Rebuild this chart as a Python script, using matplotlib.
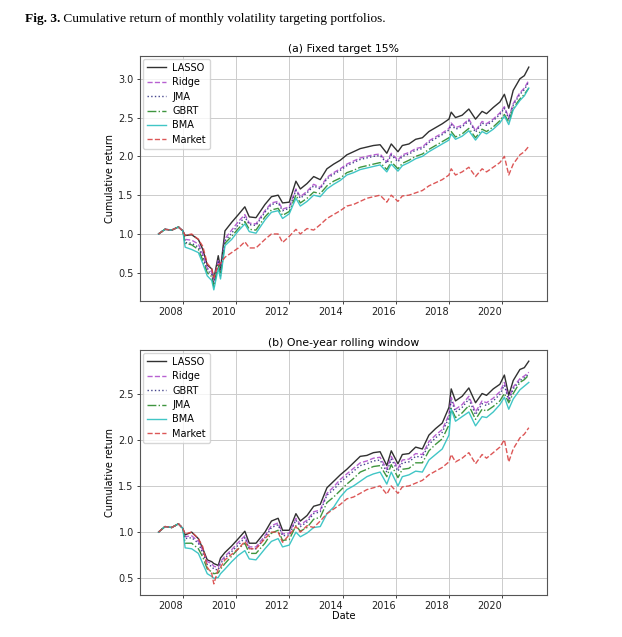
import matplotlib
matplotlib.use('Agg')
import matplotlib.pyplot as plt
import matplotlib.dates as mdates
import pandas as pd

# month-end observation dates shared by every series
months = ['2007-01', '2007-04', '2007-07', '2007-10', '2007-12', '2008-01', '2008-04', '2008-07',
          '2008-09', '2008-11', '2009-01', '2009-02', '2009-04', '2009-05', '2009-07', '2009-10',
          '2010-01', '2010-04', '2010-06', '2010-09', '2011-01', '2011-04', '2011-07', '2011-09',
          '2011-12', '2012-03', '2012-05', '2012-08', '2012-11', '2013-02', '2013-05', '2013-08',
          '2013-11', '2014-02', '2014-05', '2014-08', '2014-11', '2015-02', '2015-05', '2015-08',
          '2015-10', '2016-01', '2016-03', '2016-06', '2016-09', '2016-12', '2017-03', '2017-06',
          '2017-09', '2017-12', '2018-01', '2018-03', '2018-06', '2018-09', '2018-12', '2019-03',
          '2019-05', '2019-08', '2019-11', '2020-01', '2020-03', '2020-05', '2020-08', '2020-10',
          '2020-12']

market = [1.00, 1.06, 1.05, 1.09, 1.04, 0.98, 1.00, 0.93, 0.84, 0.62, 0.55, 0.44, 0.60, 0.62, 0.70, 0.76,
          0.82, 0.90, 0.82, 0.82, 0.93, 1.00, 1.00, 0.89, 0.97, 1.06, 1.00, 1.07, 1.05, 1.12, 1.20, 1.25,
          1.30, 1.36, 1.38, 1.42, 1.46, 1.48, 1.50, 1.41, 1.50, 1.42, 1.49, 1.50, 1.53, 1.56, 1.62, 1.66,
          1.70, 1.76, 1.84, 1.76, 1.80, 1.86, 1.74, 1.84, 1.80, 1.86, 1.92, 2.00, 1.76, 1.90, 2.02, 2.06,
          2.13]

# (a) Fixed target 15%
a_lasso = [1.00, 1.06, 1.05, 1.09, 1.04, 0.98, 0.99, 0.93, 0.80, 0.60, 0.55, 0.42, 0.72, 0.55, 1.04, 1.15,
           1.25, 1.35, 1.22, 1.21, 1.38, 1.48, 1.50, 1.40, 1.41, 1.68, 1.58, 1.65, 1.74, 1.70, 1.84, 1.90,
           1.95, 2.02, 2.06, 2.10, 2.12, 2.14, 2.15, 2.04, 2.16, 2.06, 2.14, 2.16, 2.22, 2.24, 2.32, 2.37,
           2.42, 2.48, 2.57, 2.50, 2.53, 2.61, 2.48, 2.58, 2.55, 2.63, 2.70, 2.80, 2.62, 2.85, 3.00, 3.04,
           3.15]
a_ridge = [1.00, 1.06, 1.05, 1.09, 1.04, 0.93, 0.92, 0.87, 0.74, 0.56, 0.51, 0.38, 0.67, 0.52, 0.94, 1.05,
           1.16, 1.25, 1.14, 1.13, 1.30, 1.40, 1.42, 1.32, 1.35, 1.58, 1.48, 1.55, 1.64, 1.60, 1.73, 1.79,
           1.84, 1.90, 1.94, 1.98, 2.00, 2.02, 2.03, 1.93, 2.04, 1.95, 2.02, 2.05, 2.10, 2.12, 2.20, 2.25,
           2.30, 2.36, 2.43, 2.37, 2.40, 2.48, 2.33, 2.45, 2.42, 2.48, 2.56, 2.64, 2.50, 2.68, 2.82, 2.88,
           2.98]
a_jma = [1.00, 1.06, 1.05, 1.09, 1.04, 0.89, 0.88, 0.83, 0.70, 0.53, 0.48, 0.35, 0.64, 0.50, 0.91, 1.01,
         1.12, 1.22, 1.12, 1.11, 1.28, 1.38, 1.40, 1.30, 1.33, 1.56, 1.46, 1.53, 1.62, 1.58, 1.71, 1.77,
         1.82, 1.88, 1.92, 1.96, 1.98, 2.00, 2.01, 1.91, 2.02, 1.93, 2.00, 2.03, 2.08, 2.10, 2.18, 2.23,
         2.28, 2.34, 2.41, 2.35, 2.38, 2.46, 2.31, 2.43, 2.40, 2.46, 2.54, 2.62, 2.48, 2.66, 2.80, 2.86,
         2.96]
a_gbrt = [1.00, 1.06, 1.05, 1.09, 1.04, 0.88, 0.86, 0.80, 0.66, 0.50, 0.45, 0.32, 0.60, 0.46, 0.88, 0.97,
          1.07, 1.16, 1.06, 1.05, 1.22, 1.31, 1.33, 1.24, 1.29, 1.50, 1.40, 1.46, 1.54, 1.52, 1.62, 1.68,
          1.72, 1.79, 1.82, 1.86, 1.88, 1.90, 1.92, 1.83, 1.93, 1.84, 1.91, 1.95, 2.00, 2.03, 2.09, 2.14,
          2.19, 2.24, 2.32, 2.25, 2.29, 2.36, 2.24, 2.35, 2.32, 2.38, 2.46, 2.54, 2.44, 2.62, 2.74, 2.80,
          2.88]
a_bma = [1.00, 1.06, 1.05, 1.09, 1.04, 0.83, 0.80, 0.76, 0.62, 0.46, 0.40, 0.28, 0.56, 0.42, 0.85, 0.93,
         1.04, 1.13, 1.03, 1.01, 1.18, 1.28, 1.30, 1.20, 1.26, 1.46, 1.36, 1.42, 1.50, 1.48, 1.58, 1.64,
         1.69, 1.76, 1.79, 1.83, 1.85, 1.87, 1.89, 1.80, 1.90, 1.81, 1.88, 1.92, 1.97, 2.00, 2.06, 2.11,
         2.16, 2.21, 2.29, 2.22, 2.26, 2.33, 2.21, 2.32, 2.29, 2.35, 2.43, 2.52, 2.41, 2.60, 2.72, 2.78,
         2.88]

# (b) One-year rolling window
b_lasso = [1.00, 1.06, 1.05, 1.09, 1.04, 0.97, 1.00, 0.93, 0.82, 0.70, 0.68, 0.66, 0.64, 0.72, 0.78, 0.85,
           0.93, 1.01, 0.88, 0.88, 1.00, 1.12, 1.15, 1.02, 1.02, 1.20, 1.12, 1.18, 1.28, 1.30, 1.48, 1.55,
           1.62, 1.68, 1.75, 1.82, 1.83, 1.86, 1.87, 1.72, 1.88, 1.74, 1.84, 1.85, 1.92, 1.90, 2.05, 2.12,
           2.18, 2.35, 2.55, 2.42, 2.47, 2.56, 2.40, 2.50, 2.48, 2.55, 2.60, 2.70, 2.48, 2.64, 2.76, 2.78,
           2.85]
b_ridge = [1.00, 1.06, 1.05, 1.09, 1.04, 0.95, 0.96, 0.90, 0.80, 0.68, 0.66, 0.63, 0.62, 0.68, 0.74, 0.81,
           0.89, 0.96, 0.84, 0.84, 0.96, 1.07, 1.10, 0.98, 0.99, 1.15, 1.08, 1.13, 1.22, 1.24, 1.42, 1.49,
           1.57, 1.63, 1.69, 1.75, 1.77, 1.80, 1.81, 1.68, 1.82, 1.69, 1.78, 1.79, 1.85, 1.84, 1.98, 2.05,
           2.11, 2.27, 2.46, 2.33, 2.38, 2.47, 2.30, 2.42, 2.40, 2.45, 2.52, 2.62, 2.44, 2.57, 2.66, 2.69,
           2.73]
b_gbrt = [1.00, 1.06, 1.05, 1.09, 1.04, 0.93, 0.94, 0.88, 0.77, 0.65, 0.63, 0.60, 0.59, 0.66, 0.72, 0.79,
          0.86, 0.94, 0.82, 0.82, 0.94, 1.05, 1.08, 0.96, 0.97, 1.13, 1.06, 1.11, 1.20, 1.22, 1.40, 1.46,
          1.54, 1.60, 1.66, 1.72, 1.74, 1.77, 1.78, 1.65, 1.79, 1.66, 1.75, 1.76, 1.82, 1.81, 1.95, 2.02,
          2.08, 2.24, 2.43, 2.30, 2.35, 2.44, 2.27, 2.39, 2.37, 2.42, 2.49, 2.59, 2.42, 2.55, 2.64, 2.67,
          2.71]
b_jma = [1.00, 1.06, 1.05, 1.09, 1.04, 0.88, 0.88, 0.82, 0.73, 0.60, 0.57, 0.55, 0.56, 0.60, 0.66, 0.74,
         0.82, 0.88, 0.77, 0.77, 0.88, 0.99, 1.02, 0.91, 0.92, 1.07, 1.01, 1.05, 1.14, 1.16, 1.32, 1.38,
         1.45, 1.52, 1.58, 1.65, 1.68, 1.71, 1.72, 1.60, 1.73, 1.59, 1.68, 1.69, 1.75, 1.75, 1.88, 1.95,
         2.01, 2.16, 2.34, 2.24, 2.29, 2.37, 2.22, 2.33, 2.31, 2.36, 2.42, 2.50, 2.40, 2.50, 2.62, 2.65,
         2.70]
b_bma = [1.00, 1.06, 1.05, 1.09, 1.04, 0.83, 0.82, 0.77, 0.66, 0.55, 0.52, 0.50, 0.51, 0.55, 0.60, 0.68,
         0.75, 0.80, 0.71, 0.70, 0.82, 0.90, 0.93, 0.84, 0.86, 1.00, 0.95, 0.99, 1.05, 1.06, 1.20, 1.27,
         1.38, 1.46, 1.50, 1.55, 1.60, 1.63, 1.65, 1.52, 1.65, 1.50, 1.60, 1.62, 1.66, 1.65, 1.78, 1.84,
         1.90, 2.05, 2.33, 2.20, 2.25, 2.30, 2.15, 2.25, 2.24, 2.30, 2.38, 2.46, 2.33, 2.44, 2.54, 2.58,
         2.62]

dates = pd.to_datetime(months) + pd.offsets.MonthEnd(0)

# line styles go by position in the legend, not by model name
styles = [
    dict(color='#1a1a1a', ls='-'),
    dict(color='#b050cc', ls='--'),
    dict(color='#303080', ls=':'),
    dict(color='#2a8a2a', ls='-.'),
    dict(color='#2cc0c0', ls='-'),
    dict(color='#d94545', ls='--'),
]
panel_a = [('LASSO', a_lasso), ('Ridge', a_ridge), ('JMA', a_jma), ('GBRT', a_gbrt),
           ('BMA', a_bma), ('Market', market)]
panel_b = [('LASSO', b_lasso), ('Ridge', b_ridge), ('GBRT', b_gbrt), ('JMA', b_jma),
           ('BMA', b_bma), ('Market', market)]

plt.rcParams['font.family'] = 'DejaVu Sans'
plt.rcParams['font.size'] = 7

fig = plt.figure(figsize=(6.22, 6.37), dpi=100)
ax1 = fig.add_axes([0.2251, 0.5275, 0.6548, 0.3846])
ax2 = fig.add_axes([0.2251, 0.0659, 0.6548, 0.3846])

for ax, series, title in [(ax1, panel_a, '(a) Fixed target 15%'),
                          (ax2, panel_b, '(b) One-year rolling window')]:
    for (name, vals), st in zip(series, styles):
        ax.plot(dates, vals, label=name, lw=1.0, alpha=0.9, **st)
    ax.set_title(title, fontsize=7.8, pad=3)
    ax.set_ylabel('Cumulative return', fontsize=7, labelpad=2)
    ax.grid(True, color='#cccccc', linewidth=0.7)
    ax.xaxis.set_major_locator(mdates.YearLocator(2))
    ax.xaxis.set_major_formatter(mdates.DateFormatter('%Y'))
    ax.tick_params(labelsize=7, length=2.5, width=0.6, pad=2, colors='#222222')
    for lbl in ax.get_xticklabels():
        lbl.set_ha('right')
    for sp in ax.spines.values():
        sp.set_color('#555555')
        sp.set_linewidth(0.8)
    ax.legend(loc='upper left', fontsize=7, handlelength=2.0, labelspacing=0.45,
              borderpad=0.4, borderaxespad=0.3, handletextpad=0.6, framealpha=0.8)

ax1.set_yticks([0.5, 1.0, 1.5, 2.0, 2.5, 3.0])
ax2.set_yticks([0.5, 1.0, 1.5, 2.0, 2.5])
ax2.set_xlabel('Date', fontsize=7, labelpad=0)

cap = fig.text(25 / 622, 1 - 22 / 637, 'Fig. 3.', family='Liberation Serif',
               fontweight='bold', fontsize=9.6, va='baseline')
ax1.annotate(' Cumulative return of monthly volatility targeting portfolios.',
             xy=(1, 0), xycoords=cap, va='bottom', family='Liberation Serif', fontsize=9.6,
             annotation_clip=False)

fig.savefig('out.png', dpi=100)
